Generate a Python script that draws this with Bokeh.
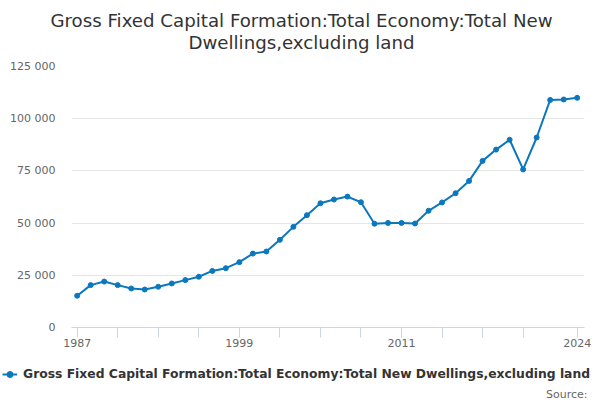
from bokeh.plotting import figure
from bokeh.layouts import column
from bokeh.models import (ColumnDataSource, FixedTicker, Label, Legend, LegendItem,
                          Range1d)
from bokeh.embed import file_html
from bokeh.resources import INLINE

# ---- data ----
title_line1 = "Gross Fixed Capital Formation:Total Economy:Total New"
title_line2 = "Dwellings,excluding land"
series_name = "Gross Fixed Capital Formation:Total Economy:Total New Dwellings,excluding land"
source_text = "Source:"
years = list(range(1987, 2025))
values = [15200, 20300, 22000, 20300, 18700, 18200, 19500, 21100, 22700, 24300,
          27100, 28400, 31300, 35400, 36400, 42000, 48200, 53800, 59500, 61300,
          62700, 60000, 49700, 50100, 50100, 49800, 55900, 59900, 64300, 70200,
          79800, 85200, 89900, 75700, 91000, 109000, 109200, 110000]
x_ticks = [1987, 1990, 1993, 1996, 1999, 2002, 2005, 2008, 2011, 2014, 2017, 2020, 2024]
x_labels = ["1987", "", "", "", "1999", "", "", "", "2011", "", "", "", "2024"]
y_ticks = [0, 25000, 50000, 75000, 100000, 125000]
y_labels = ["0", "25 000", "50 000", "75 000", "100 000", "125 000"]

FONT = "DejaVu Sans"
COLOR = "#0b78be"
W = 600


def blank(h):
    f = figure(width=W, height=h, output_backend="svg", toolbar_location=None,
               x_range=Range1d(0, W), y_range=Range1d(0, h),
               x_axis_location=None, y_axis_location=None,
               min_border_left=0, min_border_right=0, min_border_top=0,
               min_border_bottom=0, frame_align=False)
    f.grid.visible = False
    f.outline_line_color = None
    f.background_fill_color = "white"
    f.border_fill_color = "white"
    return f


# ---- title strip ----
top = blank(56)
top.add_layout(Label(x=301, y=36, text=title_line1, text_align="center",
                     text_baseline="alphabetic", text_font=FONT,
                     text_font_size="18.2px", text_color="#333333"))
top.add_layout(Label(x=301, y=14, text=title_line2, text_align="center",
                     text_baseline="alphabetic", text_font=FONT,
                     text_font_size="18.2px", text_color="#333333"))

# ---- chart ----
src = ColumnDataSource(data=dict(x=years, y=values))

p = figure(width=W, height=299, output_backend="svg", toolbar_location=None,
           x_range=Range1d(1986.58, 2024.54), y_range=Range1d(0, 125000),
           min_border_left=71, min_border_right=16, min_border_top=10,
           min_border_bottom=28, frame_align=False)
p.outline_line_color = None
p.background_fill_color = "white"
p.border_fill_color = "white"

p.line("x", "y", source=src, line_color=COLOR, line_width=2)
p.scatter("x", "y", source=src, size=5, fill_color=COLOR, line_color=COLOR)

xa = p.xaxis[0]
xa.ticker = FixedTicker(ticks=x_ticks)
xa.major_label_overrides = {t: l for t, l in zip(x_ticks, x_labels)}
xa.axis_line_color = "#ccd6eb"
xa.major_tick_line_color = "#ccd6eb"
xa.major_tick_out = 10
xa.major_tick_in = 0
xa.minor_tick_out = 0
xa.minor_tick_in = 0
xa.major_label_standoff = 1
xa.major_label_text_font = FONT
xa.major_label_text_font_size = "11px"
xa.major_label_text_color = "#666666"

ya = p.yaxis[0]
ya.ticker = FixedTicker(ticks=y_ticks)
ya.major_label_overrides = {t: l for t, l in zip(y_ticks, y_labels)}
ya.axis_line_color = None
ya.major_tick_line_color = None
ya.minor_tick_line_color = None
ya.major_tick_out = 0
ya.major_tick_in = 0
ya.major_label_standoff = 16
ya.major_label_text_font = FONT
ya.major_label_text_font_size = "11px"
ya.major_label_text_color = "#666666"

p.xgrid.grid_line_color = None
p.ygrid.grid_line_color = "#e6e6e6"
p.ygrid.grid_line_width = 1

# ---- legend / source strip ----
bot = blank(45)
# legend key renderers (same series & style; data lies outside this strip's view)
l_line = bot.line("x", "y", source=src, line_color=COLOR, line_width=2)
l_pts = bot.scatter("x", "y", source=src, size=4, fill_color=COLOR, line_color=COLOR)
legend = Legend(items=[LegendItem(label=series_name, renderers=[l_line, l_pts])],
                location=(2, 16), orientation="horizontal",
                glyph_width=15, glyph_height=20, label_standoff=6,
                label_height=20, padding=0, margin=0, border_line_color=None,
                background_fill_alpha=0,
                label_text_font=FONT, label_text_font_size="12.35px",
                label_text_font_style="bold", label_text_color="#333333")
bot.add_layout(legend)
bot.add_layout(Label(x=587, y=6, text=source_text, text_align="right",
                     text_baseline="alphabetic", text_font=FONT,
                     text_font_size="11px", text_color="#666666"))

layout = column(top, p, bot, spacing=0)
open("out.html", "w").write(file_html(layout, INLINE))
